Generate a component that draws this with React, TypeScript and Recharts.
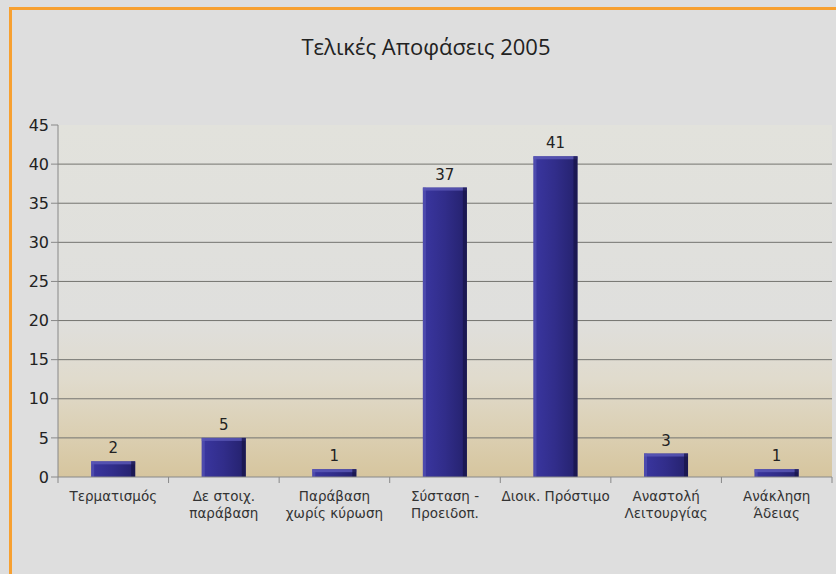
import { BarChart, Bar, XAxis, YAxis, CartesianGrid, LabelList } from 'recharts';

const CATEGORIES = [
  'Τερματισμός',
  'Δε στοιχ.\nπαράβαση',
  'Παράβαση\nχωρίς κύρωση',
  'Σύσταση -\nΠροειδοπ.',
  'Διοικ. Πρόστιμο',
  'Αναστολή\nΛειτουργίας',
  'Ανάκληση\nΆδειας',
];
const VALUES = [2, 5, 1, 37, 41, 3, 1];
const Y_TICKS = [0, 5, 10, 15, 20, 25, 30, 35, 40, 45];

const data = CATEGORIES.map((name, i) => ({ name, value: VALUES[i] }));

const FONT = '"DejaVu Sans", Verdana, sans-serif';

// bar with a little bevel, like the old office 3d look
const BevelBar = (props: any) => {
  const { x, y, width, height } = props;
  if (!height || height <= 0) return null;
  return (
    <g>
      <rect x={x} y={y} width={width} height={height} fill="url(#barGrad)" />
      <rect x={x} y={y} width={width} height={Math.min(3, height)} fill="#5c5ab8" opacity={0.8} />
      <rect x={x} y={y} width={3} height={height} fill="#5a58b8" opacity={0.6} />
      <rect x={x + width - 4} y={y} width={4} height={height} fill="#18164a" opacity={0.75} />
    </g>
  );
};

const XTick = (props: any) => {
  const { x, y, payload } = props;
  const lines = String(payload.value).split('\n');
  const half = (832 - 58) / CATEGORIES.length / 2;
  return (
    <g>
      <line x1={x - half} x2={x - half} y1={y - 8} y2={y - 2} stroke="#888" />
      {payload.index === CATEGORIES.length - 1 && (
        <line x1={x + half} x2={x + half} y1={y - 8} y2={y - 2} stroke="#888" />
      )}
      <text x={x} y={y + 16} textAnchor="middle" fontSize={13.5} fill="#333" fontFamily={FONT}>
        {lines.map((l, i) => (
          <tspan key={i} x={x} dy={i === 0 ? 0 : 17}>
            {l}
          </tspan>
        ))}
      </text>
    </g>
  );
};

export default function App() {
  return (
    <div
      style={{
        position: 'fixed',
        left: 0,
        top: 0,
        width: 836,
        height: 574,
        background: '#dedede',
        overflow: 'hidden',
      }}
    >
      <div
        style={{
          position: 'absolute',
          left: 9,
          top: 7,
          width: 900,
          height: 700,
          border: '3px solid #f7a030',
          boxSizing: 'border-box',
        }}
      />
      <div
        style={{
          position: 'absolute',
          left: 0,
          top: 31,
          width: 852,
          textAlign: 'center',
          fontFamily: '"Open Sans", "Noto Sans", sans-serif',
          fontSize: 22,
          color: '#222',
        }}
      >
        Τελικές Αποφάσεις 2005
      </div>
      <div style={{ position: 'absolute', left: 0, top: 0 }}>
        <BarChart
          width={836}
          height={574}
          data={data}
          margin={{ top: 125, right: 4, bottom: 47, left: 0 }}
          barCategoryGap="30%"
        >
          <defs>
            <linearGradient id="bgGrad" x1="0" y1="0" x2="0" y2="1">
              <stop offset="0%" stopColor="#e2e2dc" />
              <stop offset="55%" stopColor="#dfdfdd" />
              <stop offset="72%" stopColor="#e0dbcd" />
              <stop offset="88%" stopColor="#dbcfb2" />
              <stop offset="100%" stopColor="#d6c59e" />
            </linearGradient>
            <linearGradient id="barGrad" x1="0" y1="0" x2="1" y2="0">
              <stop offset="0%" stopColor="#3a36a0" />
              <stop offset="50%" stopColor="#312d8a" />
              <stop offset="100%" stopColor="#24216c" />
            </linearGradient>
          </defs>
          <CartesianGrid vertical={false} stroke="#747470" fill="url(#bgGrad)" horizontalValues={Y_TICKS.slice(1, -1)} />
          <XAxis
            dataKey="name"
            interval={0}
            height={50}
            axisLine={{ stroke: '#888' }}
            tickLine={false}
            tick={<XTick />}
          />
          <YAxis
            width={58}
            domain={[0, 45]}
            ticks={Y_TICKS}
            interval={0}
            axisLine={{ stroke: '#888' }}
            tickLine={{ stroke: '#888' }}
            tickSize={7}
            tick={{ fontSize: 16, fill: '#222', fontFamily: FONT }}
          />
          <Bar dataKey="value" shape={<BevelBar />} isAnimationActive={false}>
            <LabelList dataKey="value" position="top" offset={8} fontSize={15} fill="#222" fontFamily={FONT} />
          </Bar>
        </BarChart>
      </div>
    </div>
  );
}
